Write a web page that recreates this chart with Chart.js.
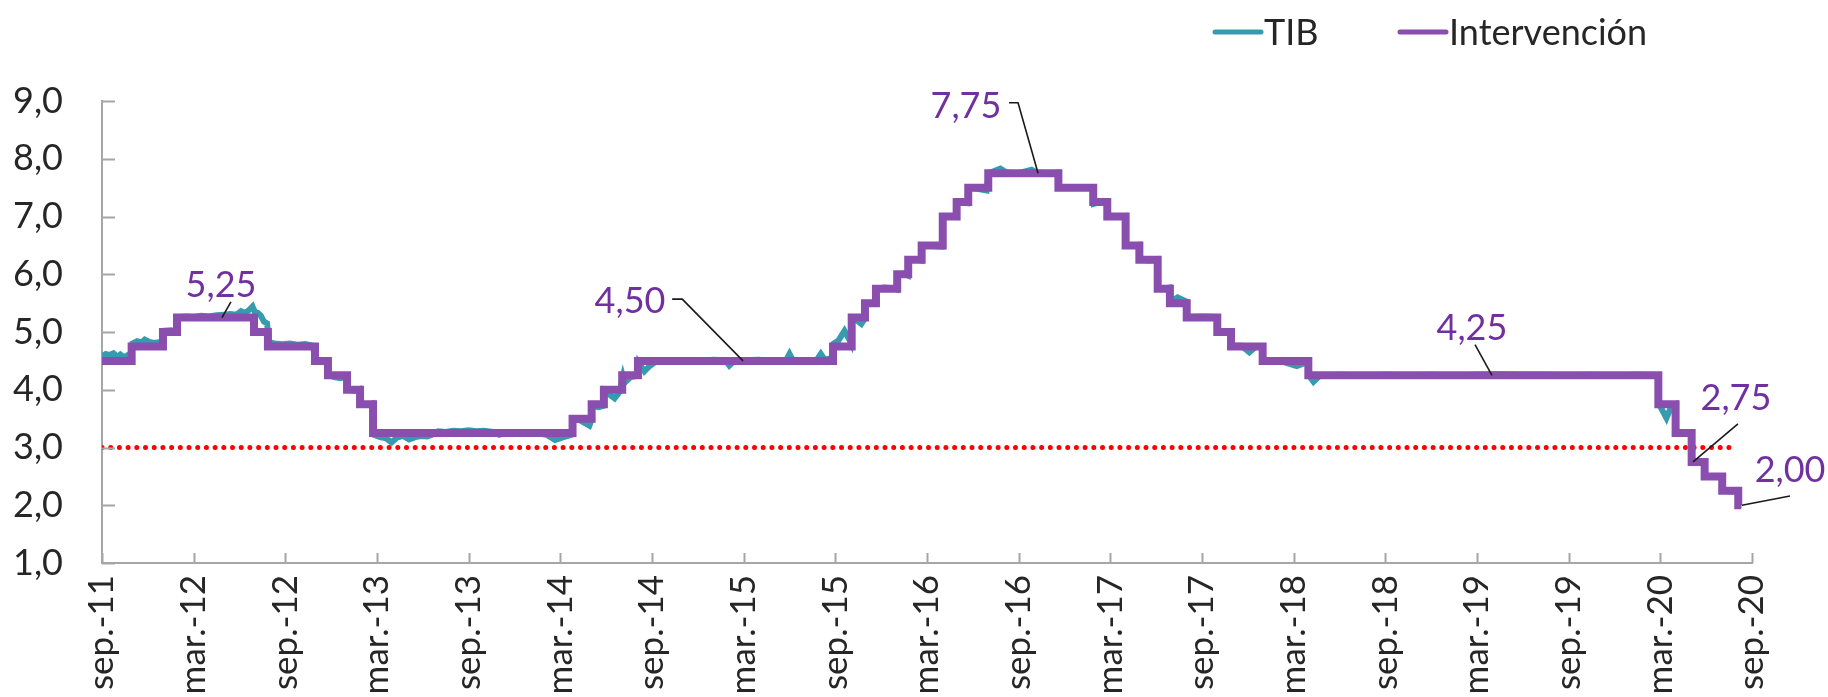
<!DOCTYPE html>
<html>
<head>
<meta charset="utf-8">
<script src="https://cdn.jsdelivr.net/npm/chart.js@4.4.1/dist/chart.umd.min.js"></script>
<style>
  html, body { margin: 0; padding: 0; background: #fff; }
  #wrap { width: 1828px; height: 697px; position: relative; }
</style>
</head>
<body>
<div id="wrap"><canvas id="chart"></canvas></div>
<script>
// x values are months counted from sep-2011 (0) to sep-2020 (108)
const xTickLabels = ['sep.-11', 'mar.-12', 'sep.-12', 'mar.-13', 'sep.-13', 'mar.-14', 'sep.-14',
  'mar.-15', 'sep.-15', 'mar.-16', 'sep.-16', 'mar.-17', 'sep.-17', 'mar.-18', 'sep.-18',
  'mar.-19', 'sep.-19', 'mar.-20', 'sep.-20'];

// Tasa de intervencion: month of each change and the new level
const rateMonth = [0, 1.94, 3.99, 4.91, 9.95, 10.86, 13.94, 14.79, 16.04, 16.89, 17.74,
  30.80, 32.05, 32.85, 34.05, 35.08, 47.85, 49.07, 49.94, 50.66, 52.05, 52.77, 53.65,
  55.03, 55.94, 56.70, 58.01, 62.60, 64.88, 65.80, 67.00, 67.90, 69.10, 69.90, 71.00,
  73.00, 73.90, 75.97, 78.96, 101.87, 103.00, 104.05, 104.90, 106.05, 107.10, 107.30];
const rateValue = [4.50, 4.75, 5.00, 5.25, 5.00, 4.75, 4.50, 4.25, 4.00, 3.75, 3.25,
  3.50, 3.75, 4.00, 4.25, 4.50, 4.75, 5.25, 5.50, 5.75, 6.00, 6.25, 6.50,
  7.00, 7.25, 7.50, 7.75, 7.50, 7.25, 7.00, 6.50, 6.25, 5.75, 5.50, 5.25,
  5.00, 4.75, 4.50, 4.25, 3.75, 3.25, 2.75, 2.50, 2.25, 2.00, 2.00];

// TIB
const tibMonth = [0.00, 0.25, 0.50, 0.75, 1.00, 1.20, 1.45, 1.70, 1.90, 2.00, 2.30, 2.60, 2.80,
  3.10, 3.40, 3.70, 3.95, 4.05, 4.50, 4.88, 4.95, 5.50, 6.00, 6.50, 7.00, 7.50, 8.00, 8.40,
  8.80, 9.10, 9.40, 9.70, 9.85, 10.00, 10.20, 10.40, 10.60, 10.80, 10.95, 11.30, 11.80,
  12.30, 12.80, 13.30, 13.80, 14.00, 14.40, 14.75, 14.85, 15.20, 15.60, 16.00, 16.10,
  16.50, 16.85, 16.95, 17.40, 17.70, 17.80, 18.20, 18.60, 18.95, 19.30, 19.70, 20.10,
  20.50, 20.90, 21.30, 21.60, 22.00, 22.50, 23.00, 23.50, 24.00, 24.50, 25.00, 25.60,
  26.00, 26.40, 27.00, 27.50, 28.00, 28.60, 29.10, 29.65, 30.10, 30.50, 30.75, 30.85,
  31.30, 31.90, 32.00, 32.10, 32.50, 32.80, 32.90, 33.55, 33.90, 34.10, 34.20, 34.60,
  35.00, 35.12, 35.50, 35.80, 36.20, 37.00, 38.00, 39.00, 40.00, 40.80, 41.06, 41.40,
  42.00, 43.00, 44.00, 44.80, 45.00, 45.20, 46.00, 46.80, 47.05, 47.30, 47.80, 47.90,
  48.20, 48.60, 48.85, 49.00, 49.10, 49.40, 49.70, 49.90, 49.97, 50.30, 50.62, 50.70,
  51.20, 51.80, 52.00, 52.08, 52.50, 52.75, 52.80, 53.30, 53.62, 53.68, 54.30, 54.98,
  55.06, 55.50, 55.90, 55.97, 56.30, 56.66, 56.73, 57.30, 57.90, 58.05, 58.80, 59.20,
  60.00, 60.85, 61.20, 62.00, 62.55, 62.65, 63.50, 64.20, 64.85, 64.92, 65.30, 65.77,
  65.83, 66.50, 66.97, 67.03, 67.50, 67.87, 67.93, 68.60, 69.07, 69.13, 69.60, 69.87,
  69.93, 70.40, 70.97, 71.03, 72.00, 72.97, 73.03, 73.87, 73.93, 74.60, 75.10, 75.50,
  75.94, 76.00, 77.00, 78.20, 78.93, 79.00, 79.30, 79.70, 81.00, 82.50, 84.00, 85.50,
  87.00, 88.50, 90.00, 91.50, 93.00, 94.50, 96.00, 97.50, 99.00, 100.50, 101.84, 101.90,
  102.40, 102.70, 102.97, 103.03, 103.60, 104.02, 104.08, 104.50, 104.87, 104.93, 105.50,
  106.02, 106.08, 106.60, 107.07, 107.13, 107.30];
const tibValue = [4.58, 4.62, 4.60, 4.63, 4.57, 4.61, 4.56, 4.60, 4.58, 4.80, 4.84, 4.82, 4.87,
  4.83, 4.81, 4.82, 4.80, 5.02, 5.03, 5.02, 5.26, 5.27, 5.26, 5.28, 5.27, 5.29, 5.30, 5.31,
  5.30, 5.36, 5.33, 5.40, 5.44, 5.35, 5.33, 5.28, 5.18, 5.15, 4.82, 4.80, 4.79,
  4.80, 4.78, 4.79, 4.76, 4.50, 4.48, 4.49, 4.25, 4.22, 4.20, 4.23, 4.00,
  3.98, 4.01, 3.75, 3.74, 3.76, 3.22, 3.18, 3.16, 3.09, 3.17, 3.20, 3.14,
  3.18, 3.20, 3.19, 3.22, 3.28, 3.27, 3.29, 3.28, 3.30, 3.28, 3.29, 3.27,
  3.22, 3.25, 3.26, 3.25, 3.26, 3.24, 3.22, 3.13, 3.17, 3.20, 3.22, 3.48,
  3.47, 3.38, 3.45, 3.72, 3.70, 3.72, 3.98, 3.85, 3.97, 4.22, 4.12, 4.22,
  4.24, 4.47, 4.32, 4.40, 4.48, 4.50, 4.51, 4.50, 4.52, 4.51, 4.42, 4.50,
  4.51, 4.52, 4.50, 4.52, 4.62, 4.52, 4.51, 4.52, 4.62, 4.52, 4.55, 4.80,
  4.85, 5.02, 4.90, 4.82, 5.24, 5.20, 5.14, 5.22, 5.50, 5.48, 5.50, 5.75,
  5.77, 5.76, 5.74, 6.00, 6.01, 5.98, 6.25, 6.26, 6.24, 6.50, 6.49, 6.48,
  7.00, 7.00, 6.99, 7.25, 7.24, 7.23, 7.50, 7.48, 7.45, 7.75, 7.83, 7.76,
  7.75, 7.81, 7.76, 7.75, 7.76, 7.50, 7.51, 7.50, 7.51, 7.22, 7.25, 7.26,
  6.99, 7.00, 7.01, 6.50, 6.50, 6.51, 6.25, 6.24, 6.26, 5.75, 5.76, 5.77,
  5.52, 5.60, 5.53, 5.26, 5.27, 5.26, 5.02, 5.01, 4.76, 4.76, 4.65, 4.74,
  4.75, 4.52, 4.51, 4.41, 4.48, 4.25, 4.14, 4.24, 4.26, 4.25, 4.26, 4.25,
  4.26, 4.25, 4.26, 4.27, 4.26, 4.26, 4.25, 4.26, 4.25, 4.26, 4.25, 3.76,
  3.51, 3.70, 3.74, 3.26, 3.26, 3.25, 2.76, 2.75, 2.74, 2.50, 2.49,
  2.50, 2.25, 2.24, 2.24, 2.00, 2.00];

// 3% reference (dotted red)
const refMonth = [0, 107.0];
const refValue = [3.0, 3.0];

// labels on the chart: text, baseline-centre (month, value) and leader line points
const noteText = ['5,25', '4,50', '7,75', '4,25', '2,75', '2,00'];
const noteAt = [[7.79, 5.60], [34.56, 5.33], [56.55, 8.71], [89.67, 4.86], [106.95, 3.65], [110.49, 2.40]];
const noteLeader = [
  [[8.44, 5.52], [7.85, 5.25]],
  [[37.32, 5.57], [37.98, 5.57], [41.96, 4.50]],
  [[59.37, 8.97], [59.96, 8.97], [61.27, 7.75]],
  [[89.87, 4.78], [90.98, 4.25]],
  [[107.08, 3.41], [104.14, 2.75]],
  [[110.49, 2.16], [107.34, 2.00]]
];

const TEAL = '#379bb0';
const PURPLE = '#8a4fae';
const TEXT = '#262626';
const FONT = 'Lato, "Open Sans", sans-serif';

const toPts = (xs, ys) => xs.map((x, i) => ({ x: x, y: ys[i] }));

// inside tick marks on both axes
const innerTicks = {
  id: 'innerTicks',
  afterDatasetsDraw(chart) {
    const { ctx, chartArea, scales } = chart;
    ctx.save();
    ctx.strokeStyle = '#a6a6a6';
    ctx.lineWidth = 2;
    ctx.beginPath();
    scales.x.ticks.forEach(t => {
      const px = Math.round(scales.x.getPixelForValue(t.value)) + 0.5;
      ctx.moveTo(px, chartArea.bottom);
      ctx.lineTo(px, chartArea.bottom - 10);
    });
    scales.y.ticks.forEach(t => {
      const py = Math.round(scales.y.getPixelForValue(t.value)) + 0.5;
      ctx.moveTo(chartArea.left, py);
      ctx.lineTo(chartArea.left + 13, py);
    });
    ctx.stroke();
    ctx.restore();
  }
};

// value labels with leader lines
const notes = {
  id: 'notes',
  afterDraw(chart) {
    const { ctx, scales } = chart;
    const X = v => scales.x.getPixelForValue(v);
    const Y = v => scales.y.getPixelForValue(v);
    ctx.save();
    ctx.strokeStyle = '#1a1a1a';
    ctx.lineWidth = 1.6;
    noteLeader.forEach(path => {
      ctx.beginPath();
      path.forEach((p, i) => i ? ctx.lineTo(X(p[0]), Y(p[1])) : ctx.moveTo(X(p[0]), Y(p[1])));
      ctx.stroke();
    });
    ctx.fillStyle = '#7030a0';
    ctx.font = '36px ' + FONT;
    ctx.textAlign = 'center';
    ctx.textBaseline = 'alphabetic';
    noteText.forEach((t, i) => ctx.fillText(t, X(noteAt[i][0]), Y(noteAt[i][1])));
    ctx.restore();
  }
};

// legend drawn at the top right, like the original
const topLegend = {
  id: 'topLegend',
  afterDraw(chart, args, opts) {
    const { ctx } = chart;
    ctx.save();
    ctx.font = '36px ' + FONT;
    ctx.textBaseline = 'middle';
    ctx.textAlign = 'left';
    let k = 0;
    chart.data.datasets.forEach(ds => {
      if (!ds.label) return;
      const x0 = opts.x[k++];
      ctx.strokeStyle = ds.borderColor;
      ctx.lineWidth = 5;
      ctx.lineCap = 'round';
      ctx.beginPath();
      ctx.moveTo(x0, opts.y);
      ctx.lineTo(x0 + 46, opts.y);
      ctx.stroke();
      ctx.fillStyle = TEXT;
      ctx.fillText(ds.label, x0 + 49, opts.y + 1);
    });
    ctx.restore();
  }
};

new Chart(document.getElementById('chart'), {
  type: 'line',
  data: {
    datasets: [
      {
        label: 'TIB',
        data: toPts(tibMonth, tibValue),
        borderColor: TEAL,
        borderWidth: 6,
        pointRadius: 0,
        tension: 0,
        order: 2
      },
      {
        label: 'Intervención',
        data: toPts(rateMonth, rateValue),
        borderColor: PURPLE,
        borderWidth: 8,
        pointRadius: 0,
        stepped: true,
        order: 1
      },
      {
        label: '',
        data: toPts(refMonth, refValue),
        borderColor: '#ff0000',
        borderWidth: 5,
        borderDash: [0, 8.7],
        borderCapStyle: 'round',
        pointRadius: 0,
        order: 3
      }
    ]
  },
  options: {
    responsive: true,
    maintainAspectRatio: false,
    animation: false,
    layout: { padding: { top: 101, right: 76, bottom: 0, left: 0 } },
    plugins: {
      legend: { display: false },
      tooltip: { enabled: false },
      topLegend: { x: [1215, 1400], y: 32 }
    },
    scales: {
      x: {
        type: 'linear',
        min: 0,
        max: 108,
        afterFit: s => { s.height = 134; },
        afterBuildTicks: s => { s.ticks = xTickLabels.map((l, i) => ({ value: i * 6 })); },
        grid: { display: false, drawTicks: false },
        border: { display: true, color: '#a6a6a6', width: 2 },
        ticks: {
          autoSkip: false,
          minRotation: 90,
          maxRotation: 90,
          padding: 12,
          color: TEXT,
          font: { family: FONT, size: 35 },
          callback: v => xTickLabels[Math.round(v / 6)]
        }
      },
      y: {
        min: 1,
        max: 9,
        afterFit: s => { s.width = 102; },
        grid: { display: false, drawTicks: false },
        border: { display: true, color: '#a6a6a6', width: 2 },
        ticks: {
          stepSize: 1,
          padding: 39,
          color: TEXT,
          font: { family: FONT, size: 36 },
          callback: v => v.toFixed(1).replace('.', ',')
        }
      }
    }
  },
  plugins: [innerTicks, notes, topLegend]
});
</script>
</body>
</html>
